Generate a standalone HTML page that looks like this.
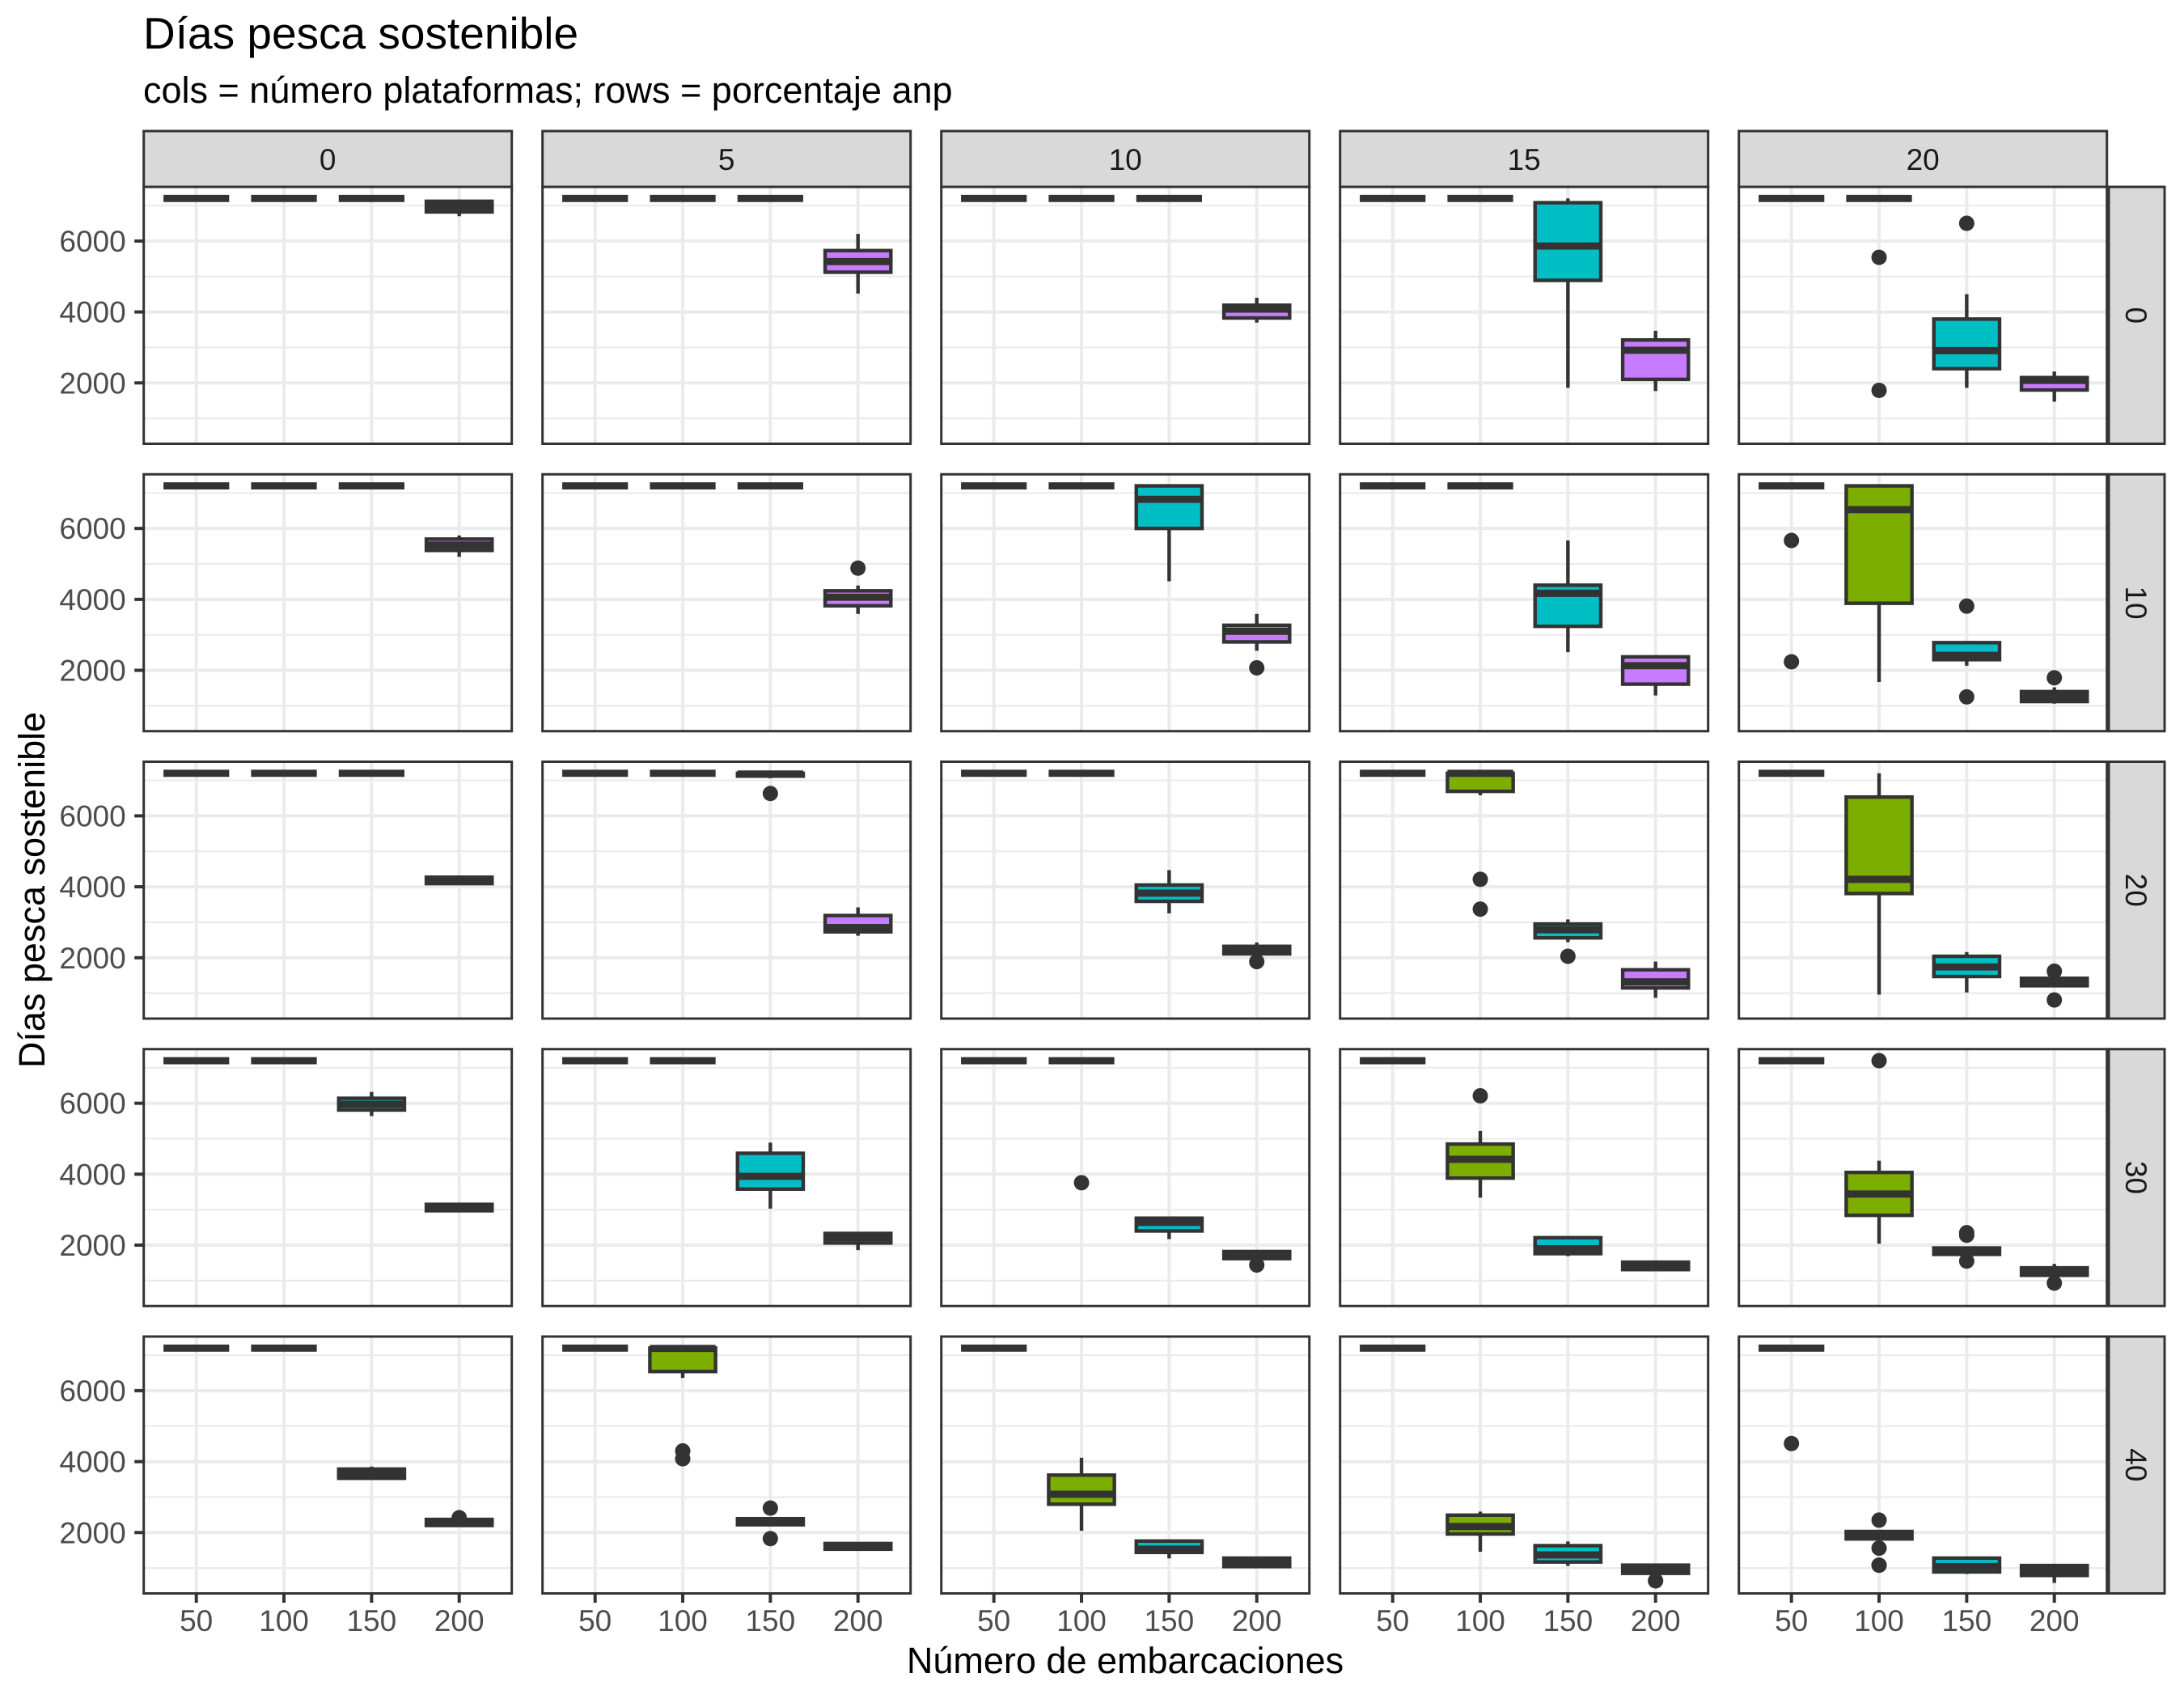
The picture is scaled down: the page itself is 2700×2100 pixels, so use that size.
<!DOCTYPE html>
<html><head><meta charset="utf-8"><style>
html,body{margin:0;padding:0;background:#fff;}
svg{display:block;font-family:"Liberation Sans",Arial,sans-serif;}
</style></head><body>
<svg id="chart" width="2700" height="2100" viewBox="0 0 2700 2100" xmlns="http://www.w3.org/2000/svg">
<rect width="2700" height="2100" fill="#fff"/>
<text x="177" y="60" font-size="55" fill="#000">Días pesca sostenible</text>
<text x="177" y="127" font-size="45" fill="#000">cols = número plataformas; rows = porcentaje anp</text>
<text x="1391" y="2068" font-size="45" text-anchor="middle" fill="#000">Número de embarcaciones</text>
<text transform="translate(55,1100) rotate(-90)" font-size="45" text-anchor="middle" fill="#000">Días pesca sostenible</text>
<g id="plot"></g>
</svg>
<script>
const categories = ["50","100","150","200"];
const facetCols = ["0","5","10","15","20"];
const facetRows = ["0","10","20","30","40"];
const fillColors = ["#F8766D","#7CAE00","#00BFC4","#C77CFF"];
const yTicks = [2000,4000,6000];
const yMinorTicks = [1000,3000,5000,7000];
const F = [7200,7200,7200,7200,7200];
// boxStats[row][col][cat] = [whiskerLow, q1, median, q3, whiskerHigh]
const boxStats = [
 [
  [F,F,F,[6700,6820,6970,7120,7170]],
  [F,F,F,[4520,5120,5420,5730,6200]],
  [F,F,F,[3700,3830,4080,4190,4400]],
  [F,F,[1860,4890,5860,7080,7200],[1770,2100,2920,3210,3470]],
  [F,F,[1860,2400,2910,3800,4500],[1470,1800,2070,2150,2320]]
 ],
 [
  [F,F,F,[5200,5380,5530,5700,5800]],
  [F,F,F,[3590,3820,4060,4240,4390]],
  [F,F,[4510,6000,6820,7200,7200],[2550,2800,3100,3270,3590]],
  [F,F,[2510,3240,4170,4400,5660],[1290,1610,2130,2380,2390]],
  [F,[1670,3890,6530,7200,7200],[2130,2300,2420,2780,2810],[1060,1120,1270,1400,1520]]
 ],
 [
  [F,F,F,[4090,4090,4180,4270,4270]],
  [F,F,[7060,7120,7180,7200,7200],[2620,2730,2850,3190,3420]],
  [F,F,[3250,3590,3820,4050,4470],[2100,2110,2210,2320,2430]],
  [F,[6580,6690,7200,7200,7200],[2440,2560,2790,2950,3080],[870,1150,1320,1660,1890]],
  [F,[960,3810,4210,6530,7200],[1020,1470,1740,2040,2160],[1210,1210,1310,1420,1420]]
 ],
 [
  [F,F,[5640,5810,5970,6140,6320],[2970,2970,3060,3150,3150]],
  [F,F,[3030,3580,3940,4590,4890],[1860,2060,2210,2330,2360]],
  [F,F,[2170,2400,2640,2760,2760],[1620,1620,1720,1820,1820]],
  [F,[3340,3890,4420,4850,5220],[1690,1760,1900,2210,2240],[1310,1310,1420,1520,1520]],
  [F,[2040,2840,3440,4050,4380],[1740,1740,1830,1920,1920],[1150,1150,1250,1360,1470]]
 ],
 [
  [F,F,[3530,3530,3660,3790,3860],[2200,2200,2280,2370,2370]],
  [F,[6360,6540,7190,7200,7200],[2220,2220,2300,2390,2390],[1530,1530,1620,1690,1690]],
  [F,[2050,2800,3080,3620,4110],[1270,1440,1530,1760,1760],[1000,1040,1160,1280,1320]],
  [F,[1460,1960,2170,2490,2590],[1060,1170,1370,1630,1750],[850,850,970,1080,1080]],
  [F,[1820,1820,1920,2030,2030],[830,890,1040,1280,1310],[580,790,930,1070,1110]]
 ]
];
// outliers: [row, col, catIndex, value]
const outlierRow = [0,0,0, 1,1, 1,1,1,1,1, 2,2,2,2,2, 2,2, 3,3,3, 3,3,3,3,3, 4, 4,4,4,4, 4,4, 4, 4,4,4,4];
const outlierCol = [4,4,4, 1,2, 4,4,4,4,4, 1,2,3,3,3, 4,4, 2,2,3, 4,4,4,4,4, 0, 1,1,1,1, 3,3, 4, 4,4,4,4];
const outlierCat = [1,1,2, 3,3, 0,0,2,2,3, 2,3,1,1,2, 3,3, 1,3,1, 1,2,2,2,3, 3, 1,1,2,2, 3,3, 0, 1,1,1,1];
const outlierVal = [5540,1790,6500, 4880,2070, 5660,2240,3810,1250,1790, 6630,1890,4210,3370,2040, 1620,810, 3760,1440,6210, 7200,2280,2350,1550,930, 2420, 4300,4080,2690,1830, 640,640, 4510, 2350,1560,1080,1080];

const NS = "http://www.w3.org/2000/svg";
const plot = document.getElementById("plot");
const PX0 = 177.7, PW = 455, PSTEP = 493;
const PY0 = 231, PH = 317.5, RSTEP = 355.25;
const YMAX = 7526, YMIN = 284;
function el(tag, attrs, parent){ const e=document.createElementNS(NS,tag); for(const k in attrs) e.setAttribute(k,attrs[k]); (parent||plot).appendChild(e); return e; }
function xScale(c, i){ return PX0 + c*PSTEP + (i + 1 - 0.4)/4.2*PW; }
function yScale(r, v){ return PY0 + r*RSTEP + (YMAX - v)/(YMAX - YMIN)*PH; }
const BW = 0.75/4.2*PW;

for (let r=0;r<facetRows.length;r++){
  for (let c=0;c<facetCols.length;c++){
    const left = PX0 + c*PSTEP, top = PY0 + r*RSTEP;
    const g = el("g",{});
    
    
    el("rect",{x:left,y:top,width:PW,height:PH,fill:"#fff"},g);
    yMinorTicks.forEach(v=>{ const y=yScale(r,v); el("line",{x1:left,x2:left+PW,y1:y,y2:y,stroke:"#EBEBEB","stroke-width":2.2},g); });
    yTicks.forEach(v=>{ const y=yScale(r,v); el("line",{x1:left,x2:left+PW,y1:y,y2:y,stroke:"#EBEBEB","stroke-width":4},g); });
    categories.forEach((cat,i)=>{ const x=xScale(c,i); el("line",{x1:x,x2:x,y1:top,y2:top+PH,stroke:"#EBEBEB","stroke-width":4},g); });
    categories.forEach((cat,i)=>{
      const s = boxStats[r][c][i];
      const x = xScale(c,i);
      const bg = el("g",{},g);
      
      
      el("line",{x1:x,x2:x,y1:yScale(r,s[4]),y2:yScale(r,s[3]),stroke:"#333","stroke-width":4.4},bg);
      el("line",{x1:x,x2:x,y1:yScale(r,s[1]),y2:yScale(r,s[0]),stroke:"#333","stroke-width":4.4},bg);
      const yt=yScale(r,s[3]), yb=yScale(r,s[1]);
      el("rect",{x:x-BW/2,y:yt,width:BW,height:Math.max(0,yb-yt),fill:fillColors[i],stroke:"#333","stroke-width":4.4},bg);
      const ym=yScale(r,s[2]);
      el("line",{x1:x-BW/2,x2:x+BW/2,y1:ym,y2:ym,stroke:"#333","stroke-width":8.9},bg);
    });
    el("rect",{x:left,y:top,width:PW,height:PH,fill:"none",stroke:"#333","stroke-width":3},g);
    if (c===0){
      yTicks.forEach(v=>{ const y=yScale(r,v);
        el("line",{x1:left-11.5,x2:left,y1:y,y2:y,stroke:"#333","stroke-width":4},g);
        const t=el("text",{x:left-22,y:y+13,"font-size":37,"text-anchor":"end",fill:"#4D4D4D"},g); t.textContent=v;
        
        
      });
    }
    if (r===facetRows.length-1){
      categories.forEach((cat,i)=>{ const x=xScale(c,i), yb=top+PH;
        el("line",{x1:x,x2:x,y1:yb,y2:yb+11.5,stroke:"#333","stroke-width":4},g);
        const t=el("text",{x:x,y:2016,"font-size":37,"text-anchor":"middle",fill:"#4D4D4D"},g); t.textContent=cat;
        
        
      });
    }
    if (r===0){
      const sg=el("g",{},g);
      
      
      el("rect",{x:left,y:162,width:PW,height:69,fill:"#D9D9D9",stroke:"#333","stroke-width":3},sg);
      const t=el("text",{x:left+PW/2,y:210,"font-size":37,"text-anchor":"middle",fill:"#1A1A1A"},sg); t.textContent=facetCols[c];
    }
    if (c===facetCols.length-1){
      const sg=el("g",{},g);
      
      
      el("rect",{x:2607,y:top,width:69,height:PH,fill:"#D9D9D9",stroke:"#333","stroke-width":3},sg);
      const t=el("text",{transform:"translate(2628,"+(top+PH/2)+") rotate(90)","font-size":37,"text-anchor":"middle",fill:"#1A1A1A"},sg); t.textContent=facetRows[r];
    }
  }
}
for (let k=0;k<outlierVal.length;k++){
  const p = el("circle",{cx:xScale(outlierCol[k],outlierCat[k]),cy:yScale(outlierRow[k],outlierVal[k]),r:9.5,fill:"#333"});
  
  
}
</script>
</body></html>
